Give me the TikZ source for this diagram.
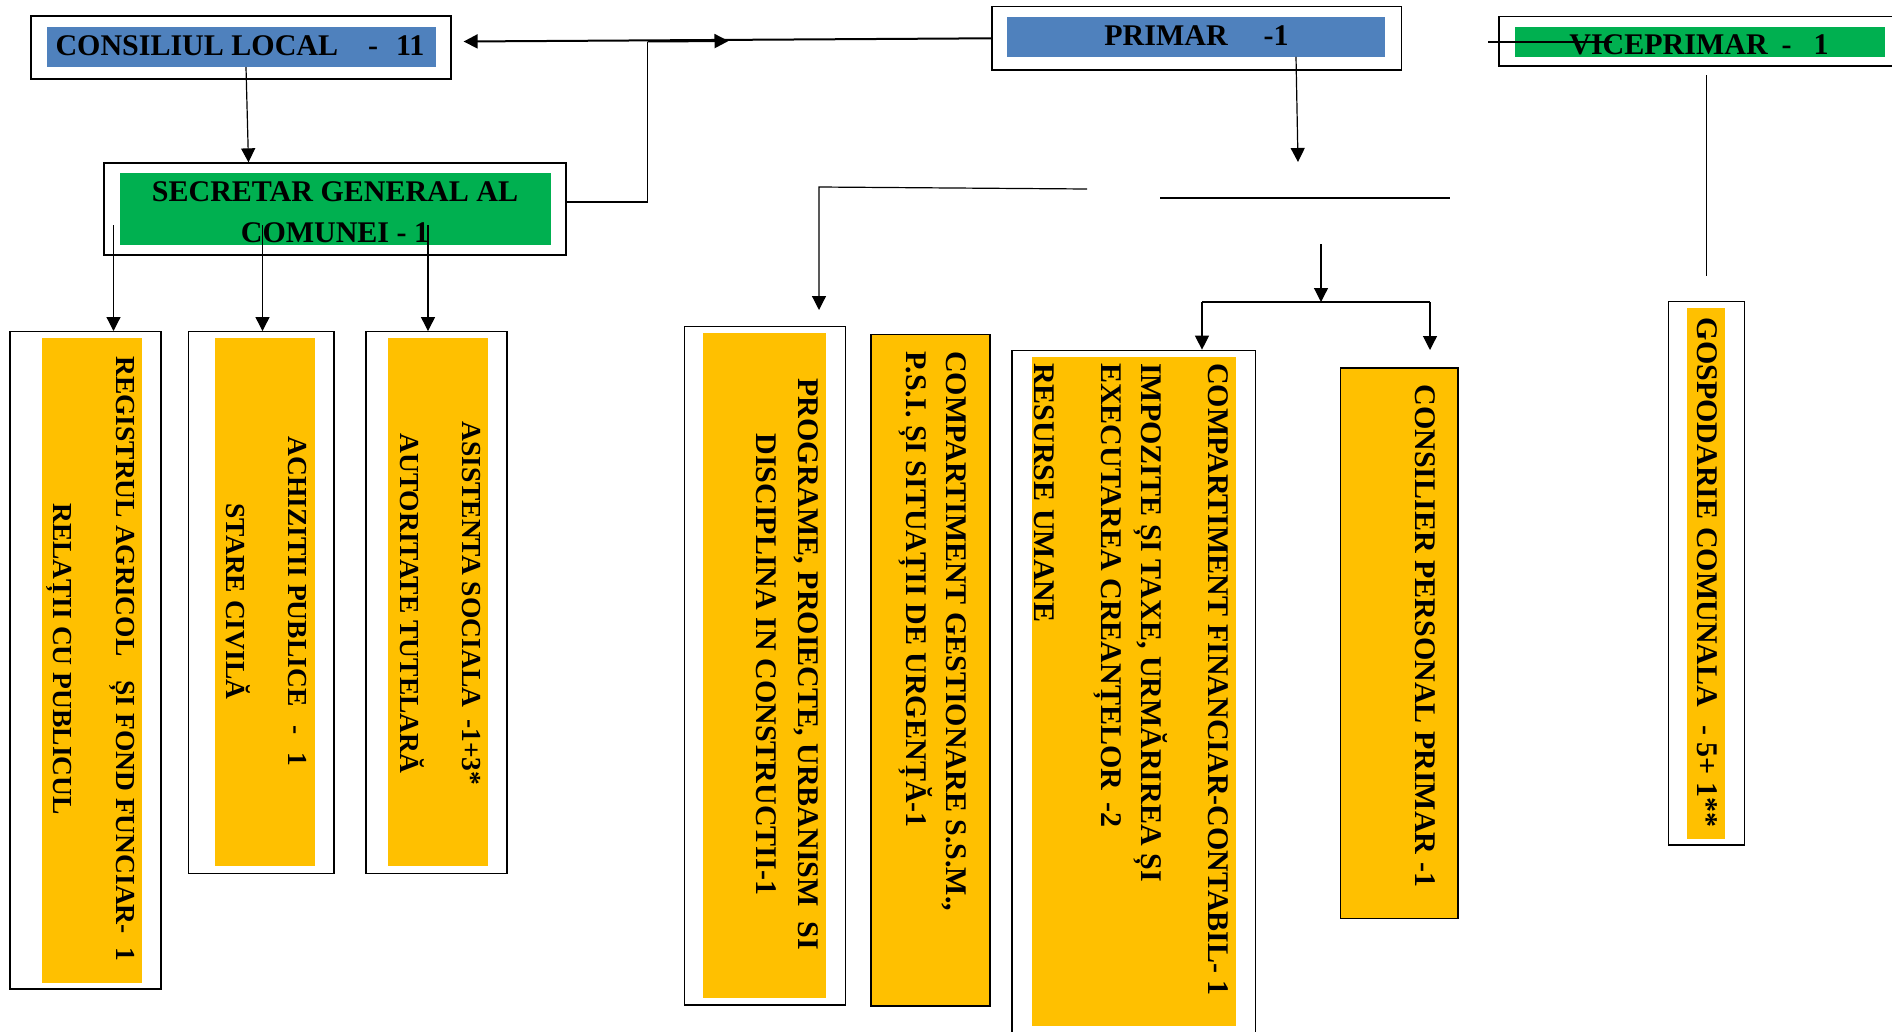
\documentclass[tikz,border=0pt]{standalone}
\usepackage{fontspec}
\setmainfont{Liberation Serif}
\usetikzlibrary{arrows.meta}
\definecolor{hdblue}{HTML}{4F81BD}
\definecolor{hdgreen}{HTML}{00B050}
\definecolor{dpyellow}{HTML}{FFC000}
\tikzset{
  frame/.style={draw, fill=white, line width=1.3pt, inner sep=0pt},
  band/.style={inner sep=0pt},
  ybox/.style={draw, fill=dpyellow, line width=1.8pt, inner sep=0pt},
  lbl/.style={font=\bfseries\fontsize{30}{36}\selectfont, inner sep=0pt},
  vlbl/.style={lbl, rotate=-90, anchor=north},
  leftsz/.style={font=\bfseries\fontsize{27.5}{33}\selectfont},
  ln/.style={line width=1.2pt},
  arr/.style={-{Triangle[length=14pt,width=14pt]}, line width=1.2pt}
}

\begin{document}
\begin{tikzpicture}[x=1pt,y=-1pt]
\useasboundingbox (0,0) rectangle (1892,1031);
\clip (0,0) rectangle (1892,1031);

\node[frame, minimum width=420pt, minimum height=63pt](clf) at (241,47.5){};
\node[band, fill=hdblue, minimum width=389pt, minimum height=40pt](clb) at (241.5,47){};
\node[lbl, anchor=base](cl) at (240,55){CONSILIUL LOCAL\hspace{30pt}-\hspace{18pt}11};

\node[frame, minimum width=462pt, minimum height=92pt](sgf) at (335,209){};
\node[band, fill=hdgreen, minimum width=431pt, minimum height=72pt](sgb) at (335.5,209){};
\node[lbl, align=center, anchor=north](sg) at (335,181){SECRETAR GENERAL AL\\[5pt]COMUNEI - 1};

\node[frame, minimum width=409.5pt, minimum height=63.3pt](prf) at (1196.7,38.3){};
\node[band, fill=hdblue, minimum width=378pt, minimum height=39.7pt](prb) at (1196,36.8){};
\node[lbl, anchor=base](pr) at (1196.5,45.7){PRIMAR\hspace{36pt}-1};

\node[frame, minimum width=411pt, minimum height=49.7pt](vpf) at (1704.5,41.2){};
\node[band, fill=hdgreen, minimum width=370pt, minimum height=29.7pt](vpb) at (1700,41.85){};
\node[lbl, anchor=base](vp) at (1699,54){VICEPRIMAR\hspace{14pt}-\hspace{22pt}1};

\node[frame, minimum width=151pt, minimum height=657.3pt](rgf) at (85.5,660.3){};
\node[band, fill=dpyellow, minimum width=100pt, minimum height=644.5pt](rgb) at (92,660.25){};
\node[vlbl, leftsz, align=center](rg) at (134.5,659){REGISTRUL AGRICOL\hspace{24pt}ȘI FOND FUNCIAR-\hspace{14pt}1\\[29.5pt]RELAȚII CU PUBLICUL};

\node[frame, minimum width=145.3pt, minimum height=541.7pt](acf) at (261.35,602.55){};
\node[band, fill=dpyellow, minimum width=100pt, minimum height=528.4pt](acb) at (265,602.2){};
\node[vlbl, leftsz, align=center](ac) at (307,601.5){ACHIZITII PUBLICE\hspace{19pt}-\hspace{18pt}1\\[29.5pt]STARE CIVILĂ};

\node[frame, minimum width=141pt, minimum height=541.7pt](asf) at (436.5,602.55){};
\node[band, fill=dpyellow, minimum width=100pt, minimum height=528.4pt](asb) at (438,602.2){};
\node[vlbl, leftsz, align=center](as) at (481,603.3){ASISTENTA SOCIALA\hspace{12pt}-1+3*\\[29.5pt]AUTORITATE TUTELARĂ};

\node[frame, minimum width=161.3pt, minimum height=678.4pt](pgf) at (765.15,665.8){};
\node[band, fill=dpyellow, minimum width=123.3pt, minimum height=665.4pt](pgb) at (764.35,665.3){};
\node[vlbl, align=center](pg) at (818.5,664.5){PROGRAME, PROIECTE, URBANISM\hspace{15pt}SI\\[6pt]DISCIPLINA IN CONSTRUCTII-1};

\node[ybox, minimum width=119pt, minimum height=671.8pt](gsb) at (930.3,670.4){};
\node[vlbl, align=left, anchor=north west](gs) at (967,351){COMPARTIMENT GESTIONARE S.S.M.,\\[4.5pt]P.S.I. ȘI SITUAȚII DE URGENȚĂ-1};

\node[frame, minimum width=243.5pt, minimum height=699.7pt](fnf) at (1133.75,700.15){};
\node[band, fill=dpyellow, minimum width=204pt, minimum height=668.7pt](fnb) at (1134,691.35){};
\node[vlbl, align=left, anchor=north west](fn) at (1228.5,363){COMPARTIMENT FINANCIAR-CONTABIL- 1\\[31pt]IMPOZITE ȘI TAXE, URMĂRIREA ȘI\\[4pt]EXECUTAREA CREANȚELOR\hspace{12pt}-2\\[30.5pt]RESURSE UMANE};

\node[ybox, minimum width=117.1pt, minimum height=550.8pt](cpb) at (1399.05,643){};
\node[vlbl, anchor=north west](cp) at (1435.5,384.4){CONSILIER PERSONAL PRIMAR -1};

\node[frame, minimum width=76.1pt, minimum height=543.4pt](gpf) at (1706.45,573.3){};
\node[band, fill=dpyellow, minimum width=38pt, minimum height=531.2pt](gpb) at (1706,573.4){};
\node[vlbl](gp) at (1717.5,572.5){GOSPODARIE COMUNALA\hspace{18pt}- 5+ 1**};

\coordinate (jn) at (647.5,41.5);
\coordinate (mid) at (728.5,41);
\coordinate (s1) at (113.5,225);
\coordinate (s2) at (262.5,225);
\coordinate (s3) at (428,225);
\coordinate (pd) at (1298,162);
\coordinate (h1r) at (1087,189);
\coordinate (h1l) at (819,187);
\coordinate (pgin) at (819,310);
\coordinate (h2l) at (1160,198);
\coordinate (h2r) at (1450,198);
\coordinate (fktop) at (1321,244);
\coordinate (fk) at (1321,302);
\coordinate (fkl) at (1202,302);
\coordinate (fkr) at (1430,302);
\coordinate (cpin) at (1430,350);
\coordinate (vs) at (1488,42);
\coordinate (ve) at (1612,42);
\coordinate (vv1) at (1706.5,75);
\coordinate (vv2) at (1706.5,276);

\draw[arr, line width=2pt] (prf.west) -- ([xshift=12pt,yshift=6pt]clf.east);
\draw[ln] ([yshift=7pt]sgf.east) -| (jn);
\draw[arr, line width=2pt] (jn) -- (mid);
\draw[arr] ([xshift=4.5pt]clb.south) -- ([xshift=-86.5pt]sgf.north);
\draw[arr] (s1) -- (s1 |- rgf.north);
\draw[arr] (s2) -- (s2 |- acf.north);
\draw[arr] (s3) -- (s3 |- asf.north);
\draw[arr] ([xshift=100pt]prb.south) -- (pd);
\draw[arr] (h1r) -- (h1l) -- (pgin);
\draw[ln] (h2l) -- (h2r);
\draw[arr] (fktop) -- (fk);
\draw[ln] (fkl) -- (fkr);
\draw[arr] (fkl) -- (fkl |- fnf.north);
\draw[arr] (fkr) -- (cpin);
\draw[ln] (vs) -- (ve);
\draw[ln] (vv1) -- (vv2);
\end{tikzpicture}
\end{document}
